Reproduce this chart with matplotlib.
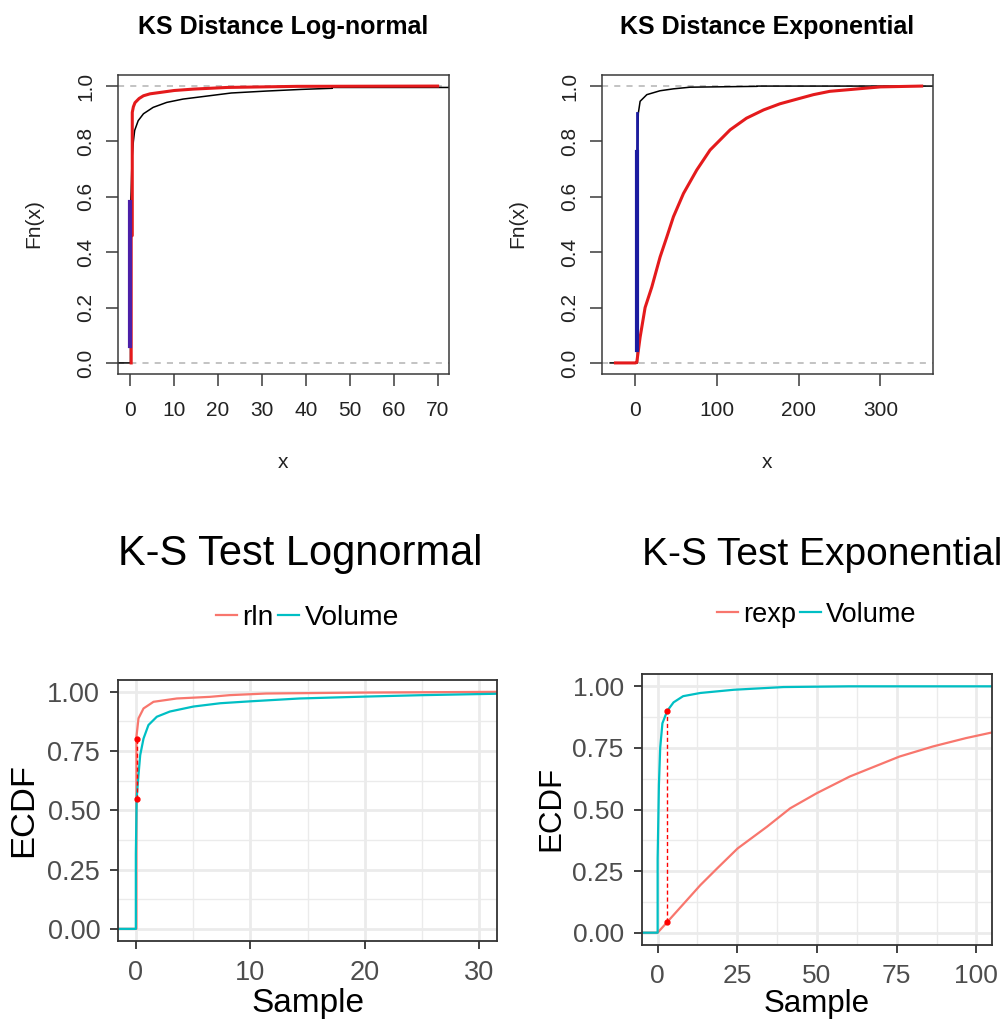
import numpy as np
import matplotlib.pyplot as plt

plt.rcParams['font.family'] = ['Liberation Sans', 'DejaVu Sans']

# ---- data ----
# top left: KS Distance Log-normal (base R ecdf plot)
tl_volume_x = [-2.8, 0.05, 0.05, 0.1, 0.2, 0.4, 0.7, 1.0, 1.8, 3.0, 5.2, 8.3, 12.0, 18.0, 23.0, 31.0, 39.0, 46.0, 46.0, 72.6]
tl_volume_y = [0.0, 0.0, 0.30, 0.58, 0.62, 0.74, 0.80, 0.84, 0.875, 0.90, 0.923, 0.941, 0.953, 0.965, 0.975, 0.982, 0.988, 0.992, 0.995, 0.995]
tl_rln_x = [0.2, 0.2, 0.45, 0.45, 0.7, 1.07, 2.0, 3.0, 4.5, 6.8, 10.0, 14.3, 22.0, 38.0, 70.0]
tl_rln_y = [0.0, 0.46, 0.46, 0.905, 0.925, 0.94, 0.955, 0.965, 0.972, 0.977, 0.984, 0.989, 0.995, 0.999, 1.0]
tl_ks_x = 0.0
tl_ks_y = [0.062, 0.58]

# top right: KS Distance Exponential
tr_volume_x = [-31.0, 2.4, 2.4, 3.5, 5.7, 13.9, 30.0, 46.5, 67.0, 149.0, 149.0, 364.5]
tr_volume_y = [0.0, 0.0, 0.76, 0.902, 0.945, 0.969, 0.983, 0.99, 0.996, 0.999, 1.0, 1.0]
tr_rexp_x = [-24.5, 0.0, 1.6, 5.7, 11.8, 20.0, 30.2, 38.4, 46.5, 58.8, 75.1, 91.4, 116.0, 136.0, 157.0, 177.0, 198.0, 218.0, 238.0, 300.0, 350.6]
tr_rexp_y = [0.0, 0.0, 0.002, 0.093, 0.20, 0.274, 0.383, 0.455, 0.528, 0.612, 0.697, 0.769, 0.842, 0.884, 0.914, 0.936, 0.953, 0.969, 0.981, 0.997, 1.0]
tr_ks_x = 2.0
tr_ks_y = [0.045, 0.902]
tr_ks_y_thick = [0.045, 0.763]

# bottom left: K-S Test Lognormal (ggplot)
bl_volume_x = [-1.5, 0.03, 0.03, 0.1, 0.26, 0.41, 0.7, 1.13, 1.86, 3.0, 5.05, 7.4, 10.0, 14.3, 20.0, 25.0, 31.5]
bl_volume_y = [0.0, 0.0, 0.316, 0.55, 0.649, 0.733, 0.803, 0.86, 0.895, 0.917, 0.938, 0.952, 0.96, 0.972, 0.98, 0.986, 0.992]
bl_rln_x = [-1.5, 0.08, 0.08, 0.26, 0.7, 1.57, 3.6, 6.5, 8.2, 11.4, 20.0, 31.5]
bl_rln_y = [0.0, 0.0, 0.81, 0.888, 0.93, 0.958, 0.972, 0.979, 0.986, 0.993, 0.997, 1.0]
bl_ks_x = 0.12
bl_ks_y = [0.547, 0.803]

# bottom right: K-S Test Exponential
br_volume_x = [-5.0, 0.0, 0.0, 0.4, 0.8, 1.5, 3.0, 5.0, 8.0, 13.4, 23.9, 39.5, 60.0, 105.0]
br_volume_y = [0.0, 0.0, 0.30, 0.60, 0.75, 0.85, 0.90, 0.935, 0.96, 0.973, 0.986, 0.997, 1.0, 1.0]
br_rexp_x = [-5.0, 0.0, 3.0, 8.2, 13.4, 18.6, 25.1, 34.3, 41.6, 49.9, 60.3, 70.7, 75.9, 86.4, 96.8, 105.0]
br_rexp_y = [0.0, 0.0, 0.043, 0.118, 0.193, 0.26, 0.342, 0.43, 0.505, 0.566, 0.634, 0.688, 0.715, 0.756, 0.79, 0.813]
br_ks_x = 3.0
br_ks_y = [0.043, 0.901]

W, H = 1006, 1021
fig = plt.figure(figsize=(W / 100, H / 100), dpi=100)


def add_box(l, t, r, b):
    return fig.add_axes([l / W, 1 - b / H, (r - l) / W, (b - t) / H])


def ftext(x, y, s, **kw):
    fig.text(x / W, 1 - y / H, s, **kw)


def r_style(ax, xlim, xticks):
    ax.set_xlim(*xlim)
    ax.set_ylim(-0.04, 1.04)
    ax.set_xticks(xticks)
    ax.set_yticks([0, 0.2, 0.4, 0.6, 0.8, 1.0])
    ax.set_yticklabels(['0.0', '0.2', '0.4', '0.6', '0.8', '1.0'])
    for sp in ax.spines.values():
        sp.set_color('#3a3a3a')
        sp.set_linewidth(1.1)
    ax.tick_params(direction='out', length=8.6, width=1.1, color='#3a3a3a',
                   labelsize=15, labelcolor='#222222')
    ax.tick_params(axis='x', pad=11)
    ax.tick_params(axis='y', pad=8, labelrotation=90)
    for lbl in ax.get_yticklabels():
        lbl.set_va('center')
    for h in (0, 1):
        ax.axhline(h, color='#b3b3b3', lw=1.1, ls=(0, (4, 4)), zorder=0)


def gg_style(ax, xlim, xmajor, xminor, tsize):
    ax.set_xlim(*xlim)
    ax.set_ylim(-0.05, 1.05)
    ax.set_xticks(xmajor)
    ax.set_xticks(xminor, minor=True)
    ax.set_yticks([0, 0.25, 0.5, 0.75, 1.0])
    ax.set_yticklabels(['0.00', '0.25', '0.50', '0.75', '1.00'])
    ax.set_yticks([0.125, 0.375, 0.625, 0.875], minor=True)
    ax.grid(which='major', color='#ebebeb', lw=2.0)
    ax.grid(which='minor', color='#ebebeb', lw=1.0)
    ax.set_axisbelow(True)
    for sp in ax.spines.values():
        sp.set_color('#333333')
        sp.set_linewidth(1.3)
    ax.tick_params(which='major', direction='out', length=6, width=1.3, color='#333333',
                   labelsize=tsize, labelcolor='#4d4d4d')
    ax.tick_params(which='minor', length=0)
    ax.tick_params(axis='x', pad=8)
    ax.tick_params(axis='y', pad=7)


# ---- top left ----
ax = add_box(118, 75, 449, 374)
r_style(ax, (-2.8, 72.6), range(0, 80, 10))
ax.plot(tl_volume_x, tl_volume_y, color='black', lw=1.1)
ax.plot(tl_rln_x, tl_rln_y, color='#e41a1c', lw=2.2)
ax.plot([tl_ks_x, tl_ks_x], tl_ks_y, color='#4b1fa8', lw=3)
ftext(283.5, 34, 'KS Distance Log-normal', ha='center', va='baseline', fontsize=18, fontweight='bold')
ftext(283.5, 468, 'x', ha='center', va='baseline', fontsize=15, color='#222222')
ftext(34, 224, 'Fn(x)', ha='center', va='center', rotation=90, fontsize=15, color='#222222')

# ---- top right ----
ax = add_box(602, 75, 933, 374)
r_style(ax, (-41, 364.5), [0, 100, 200, 300])
ax.plot(tr_volume_x, tr_volume_y, color='black', lw=1.1)
ax.plot(tr_rexp_x, tr_rexp_y, color='#e41a1c', lw=2.2)
ax.plot([tr_ks_x, tr_ks_x], tr_ks_y, color='#1c1ca0', lw=2)
ax.plot([tr_ks_x, tr_ks_x], tr_ks_y_thick, color='#1c1ca0', lw=3)
ftext(767.5, 34, 'KS Distance Exponential', ha='center', va='baseline', fontsize=18, fontweight='bold')
ftext(767.5, 468, 'x', ha='center', va='baseline', fontsize=15, color='#222222')
ftext(518, 224, 'Fn(x)', ha='center', va='center', rotation=90, fontsize=15, color='#222222')

red_gg = '#F8766D'
teal_gg = '#00BFC4'

# ---- bottom left ----
ax = add_box(118.3, 680, 496.7, 940.7)
gg_style(ax, (-1.5, 31.5), [0, 10, 20, 30], [5, 15, 25], 19.5)
ax.plot(bl_rln_x, bl_rln_y, color=red_gg, lw=1.6, label='rln')
ax.plot(bl_volume_x, bl_volume_y, color=teal_gg, lw=1.6, label='Volume')
ax.plot([bl_ks_x, bl_ks_x], bl_ks_y, color='red', lw=1.0, ls=(0, (3, 2)))
ax.plot([bl_ks_x, bl_ks_x], bl_ks_y, 'o', color='red', ms=3.5)
ax.legend(loc='center', bbox_to_anchor=(0.5, 1.238), ncol=2, frameon=False,
          fontsize=20.3, handlelength=0.75, handletextpad=0.2, columnspacing=0.15)
ftext(118.3, 565, 'K-S Test Lognormal', ha='left', va='baseline', fontsize=30)
ftext(307.5, 1012, 'Sample', ha='center', va='baseline', fontsize=24)
ftext(24, 810, 'ECDF', ha='center', va='center', rotation=90, fontsize=24.8)

# ---- bottom right ----
ax = add_box(641.7, 674, 992.3, 945)
gg_style(ax, (-5, 105), [0, 25, 50, 75, 100], [12.5, 37.5, 62.5, 87.5], 19)
ax.plot(br_rexp_x, br_rexp_y, color=red_gg, lw=1.6, label='rexp')
ax.plot(br_volume_x, br_volume_y, color=teal_gg, lw=1.6, label='Volume')
ax.plot([br_ks_x, br_ks_x], br_ks_y, color='red', lw=1.0, ls=(0, (3, 2)))
ax.plot([br_ks_x, br_ks_x], br_ks_y, 'o', color='red', ms=3.5)
ax.legend(loc='center', bbox_to_anchor=(0.5, 1.218), ncol=2, frameon=False,
          fontsize=19.5, handlelength=0.75, handletextpad=0.2, columnspacing=0.15)
ftext(641.7, 565, 'K-S Test Exponential', ha='left', va='baseline', fontsize=28)
ftext(817, 1012, 'Sample', ha='center', va='baseline', fontsize=22.5)
ftext(551.7, 808, 'ECDF', ha='center', va='center', rotation=90, fontsize=22.5)

fig.savefig('out.png', dpi=100)
